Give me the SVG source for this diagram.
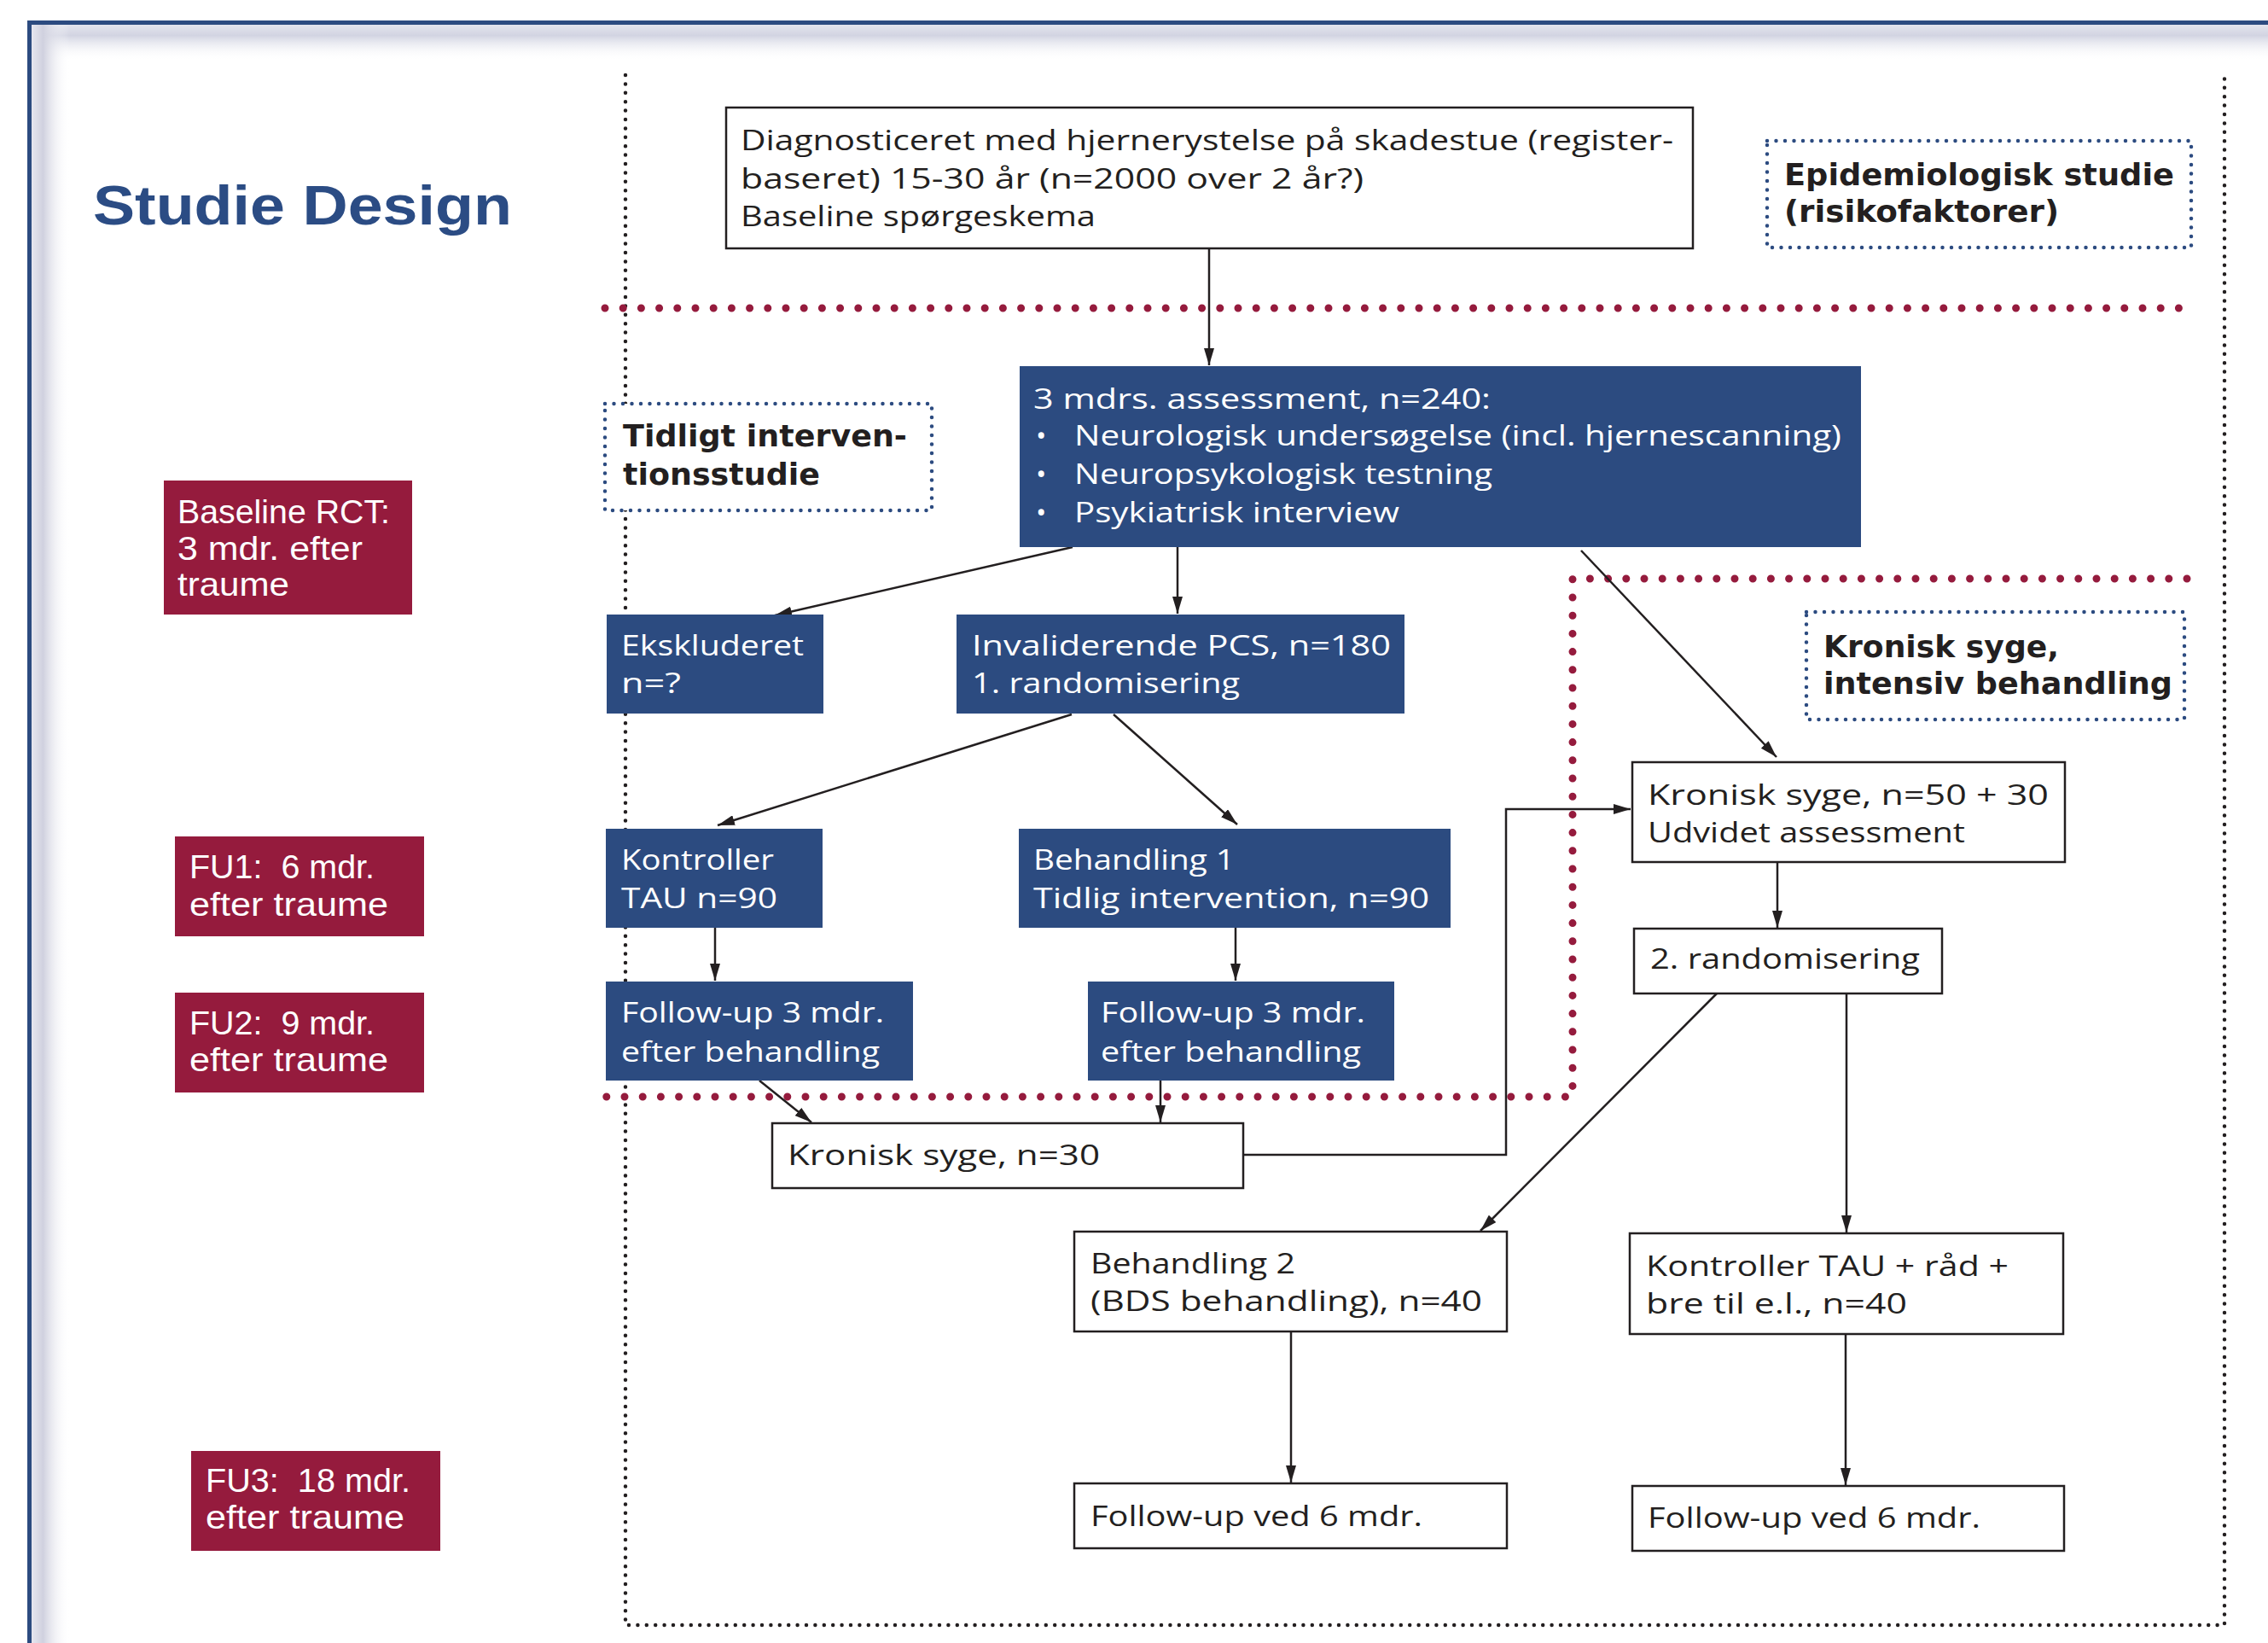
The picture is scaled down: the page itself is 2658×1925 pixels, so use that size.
<svg xmlns="http://www.w3.org/2000/svg" width="2658" height="1925" viewBox="0 0 2658 1925">
<defs>
<linearGradient id="gTop" x1="0" y1="0" x2="0" y2="1">
<stop offset="0" stop-color="#e3e4ed"/>
<stop offset="0.3" stop-color="#d2d4e2"/>
<stop offset="1" stop-color="#ffffff" stop-opacity="0"/>
</linearGradient>
<linearGradient id="gLeft" x1="0" y1="0" x2="1" y2="0">
<stop offset="0" stop-color="#e6e6ef"/>
<stop offset="0.3" stop-color="#d0d1df"/>
<stop offset="1" stop-color="#ffffff" stop-opacity="0"/>
</linearGradient>
<marker id="ah" viewBox="0 0 20 12" refX="20" refY="6" markerWidth="20" markerHeight="12" markerUnits="userSpaceOnUse" orient="auto">
<path d="M0,0 L20,6 L0,12 z" fill="#231f20"/>
</marker>
<style>
.bx{fill:#fff;stroke:#231f20;stroke-width:2.5}
.bb{fill:#2c4b80}
.rb{fill:#951b3d}
.t{font-family:"Open Sans","DejaVu Sans",sans-serif;font-size:33px;fill:#231f20}
.tw{fill:#fff}
.tb{font-family:"DejaVu Sans",sans-serif;font-weight:bold;font-size:35px;fill:#231f20}
.tr{font-family:"Liberation Sans",Arial,sans-serif;font-size:39px;fill:#fff;white-space:pre}
.c{stroke:#231f20;stroke-width:2.5;fill:none;marker-end:url(#ah)}
.bd{fill:#fff;stroke:#2c4b80;stroke-width:4.5;stroke-dasharray:0 10.5;stroke-linecap:round}
.kd{fill:none;stroke:#231f20;stroke-width:4.5;stroke-dasharray:0 10.4;stroke-linecap:round}
.rd{fill:none;stroke:#951b3d;stroke-width:9;stroke-dasharray:0 21.2;stroke-linecap:round}
</style>
</defs>
<rect x="0" y="0" width="2658" height="1925" fill="#fff"/>
<g id="frame">
<rect x="37" y="29" width="2621" height="42" fill="url(#gTop)"/>
<rect x="37" y="29" width="45" height="1896" fill="url(#gLeft)"/>
<rect x="32" y="24" width="2626" height="5" fill="#2c4b80"/>
<rect x="32" y="24" width="5" height="1901" fill="#2c4b80"/>
</g>
<g id="title">
<text x="109" y="263" font-family="Liberation Sans, Arial, sans-serif" font-weight="bold" font-size="64" fill="#2b4c84" textLength="491" lengthAdjust="spacingAndGlyphs">Studie Design</text>
</g>
<g id="regions">
<path class="kd" d="M733,88 V1904 H2607 V88"/>
<path class="rd" d="M709,361 H2563"/>
<path class="rd" d="M2563,678 H1843 V1285 H709"/>
</g>
<g id="connectors">
<path class="c" d="M1417,291 V428"/>
<path class="c" d="M1257,641 L908,721"/>
<path class="c" d="M1380,641 V719"/>
<path class="c" d="M1853,645 L2082,887" stroke-width="2"/>
<path class="c" d="M1256,837 L841,967"/>
<path class="c" d="M1305,837 L1450,966"/>
<path class="c" d="M838,1087 V1149"/>
<path class="c" d="M1448,1087 V1149"/>
<path class="c" d="M890,1266 L951,1315"/>
<path class="c" d="M1360,1266 V1315"/>
<path class="c" d="M1457,1353 H1765 V948 H1911" stroke-width="3"/>
<path class="c" d="M2083,1010 V1087"/>
<path class="c" d="M2012,1164 L1735,1442" stroke-width="2"/>
<path class="c" d="M2164,1164 V1444" stroke-width="3"/>
<path class="c" d="M1513,1560 V1737" stroke-width="3"/>
<path class="c" d="M2163,1563 V1740" stroke-width="3"/>
</g>
<g id="n-diag">
<rect class="bx" x="851" y="126" width="1133" height="165"/>
<text class="t" x="868" y="176" textLength="1093" lengthAdjust="spacingAndGlyphs">Diagnosticeret med hjernerystelse på skadestue (register-</text>
<text class="t" x="868" y="221" textLength="730" lengthAdjust="spacingAndGlyphs">baseret) 15-30 år (n=2000 over 2 år?)</text>
<text class="t" x="868" y="265" textLength="416" lengthAdjust="spacingAndGlyphs">Baseline spørgeskema</text>
</g>
<g id="n-epi">
<rect class="bd" x="2071" y="165" width="497" height="125"/>
<text class="tb" x="2091" y="217" textLength="457" lengthAdjust="spacingAndGlyphs">Epidemiologisk studie</text>
<text class="tb" x="2091" y="260" textLength="322" lengthAdjust="spacingAndGlyphs">(risikofaktorer)</text>
</g>
<g id="n-assess">
<rect class="bb" x="1195" y="429" width="986" height="212"/>
<text class="t tw" x="1211" y="479" textLength="536" lengthAdjust="spacingAndGlyphs">3 mdrs. assessment, n=240:</text>
<text class="t tw" x="1214" y="522">•</text>
<text class="t tw" x="1259" y="522" textLength="899" lengthAdjust="spacingAndGlyphs">Neurologisk undersøgelse (incl. hjernescanning)</text>
<text class="t tw" x="1214" y="567">•</text>
<text class="t tw" x="1259" y="567" textLength="490" lengthAdjust="spacingAndGlyphs">Neuropsykologisk testning</text>
<text class="t tw" x="1214" y="612">•</text>
<text class="t tw" x="1259" y="612" textLength="381" lengthAdjust="spacingAndGlyphs">Psykiatrisk interview</text>
</g>
<g id="n-tidligt">
<rect class="bd" x="709" y="473" width="383" height="125"/>
<text class="tb" x="730" y="523" textLength="333" lengthAdjust="spacingAndGlyphs">Tidligt interven-</text>
<text class="tb" x="730" y="568" textLength="231" lengthAdjust="spacingAndGlyphs">tionsstudie</text>
</g>
<g id="n-baseline-rct">
<rect class="rb" x="192" y="563" width="291" height="157"/>
<text class="tr" x="208" y="613" textLength="249" lengthAdjust="spacingAndGlyphs">Baseline RCT:</text>
<text class="tr" x="208" y="656" textLength="217" lengthAdjust="spacingAndGlyphs">3 mdr. efter</text>
<text class="tr" x="208" y="698" textLength="131" lengthAdjust="spacingAndGlyphs">traume</text>
</g>
<g id="n-eksk">
<rect class="bb" x="711" y="720" width="254" height="116"/>
<text class="t tw" x="728" y="768" textLength="214" lengthAdjust="spacingAndGlyphs">Ekskluderet</text>
<text class="t tw" x="728" y="812" textLength="70" lengthAdjust="spacingAndGlyphs">n=?</text>
</g>
<g id="n-inval">
<rect class="bb" x="1121" y="720" width="525" height="116"/>
<text class="t tw" x="1139" y="768" textLength="491" lengthAdjust="spacingAndGlyphs">Invaliderende PCS, n=180</text>
<text class="t tw" x="1139" y="812" textLength="314" lengthAdjust="spacingAndGlyphs">1. randomisering</text>
</g>
<g id="n-kron-int">
<rect class="bd" x="2117" y="717" width="443" height="126"/>
<text class="tb" x="2137" y="770" textLength="276" lengthAdjust="spacingAndGlyphs">Kronisk syge,</text>
<text class="tb" x="2137" y="813" textLength="409" lengthAdjust="spacingAndGlyphs">intensiv behandling</text>
</g>
<g id="n-kron50">
<rect class="bx" x="1913" y="893" width="507" height="117"/>
<text class="t" x="1931" y="943" textLength="470" lengthAdjust="spacingAndGlyphs">Kronisk syge, n=50 + 30</text>
<text class="t" x="1931" y="987" textLength="372" lengthAdjust="spacingAndGlyphs">Udvidet assessment</text>
</g>
<g id="n-fu1">
<rect class="rb" x="205" y="980" width="292" height="117"/>
<text class="tr" x="222" y="1029" textLength="217" lengthAdjust="spacingAndGlyphs" xml:space="preserve">FU1:  6 mdr.</text>
<text class="tr" x="222" y="1073" textLength="233" lengthAdjust="spacingAndGlyphs">efter traume</text>
</g>
<g id="n-kontr90">
<rect class="bb" x="710" y="971" width="254" height="116"/>
<text class="t tw" x="728" y="1019" textLength="179" lengthAdjust="spacingAndGlyphs">Kontroller</text>
<text class="t tw" x="728" y="1064" textLength="183" lengthAdjust="spacingAndGlyphs">TAU n=90</text>
</g>
<g id="n-beh1">
<rect class="bb" x="1194" y="971" width="506" height="116"/>
<text class="t tw" x="1211" y="1019" textLength="236" lengthAdjust="spacingAndGlyphs">Behandling 1</text>
<text class="t tw" x="1211" y="1064" textLength="464" lengthAdjust="spacingAndGlyphs">Tidlig intervention, n=90</text>
</g>
<g id="n-2rand">
<rect class="bx" x="1915" y="1088" width="361" height="76"/>
<text class="t" x="1934" y="1135" textLength="316" lengthAdjust="spacingAndGlyphs">2. randomisering</text>
</g>
<g id="n-fu2">
<rect class="rb" x="205" y="1163" width="292" height="117"/>
<text class="tr" x="222" y="1212" textLength="217" lengthAdjust="spacingAndGlyphs" xml:space="preserve">FU2:  9 mdr.</text>
<text class="tr" x="222" y="1255" textLength="233" lengthAdjust="spacingAndGlyphs">efter traume</text>
</g>
<g id="n-fu-left">
<rect class="bb" x="710" y="1150" width="360" height="116"/>
<text class="t tw" x="728" y="1198" textLength="308" lengthAdjust="spacingAndGlyphs">Follow-up 3 mdr.</text>
<text class="t tw" x="728" y="1244" textLength="303" lengthAdjust="spacingAndGlyphs">efter behandling</text>
</g>
<g id="n-fu-right">
<rect class="bb" x="1275" y="1150" width="359" height="116"/>
<text class="t tw" x="1290" y="1198" textLength="310" lengthAdjust="spacingAndGlyphs">Follow-up 3 mdr.</text>
<text class="t tw" x="1290" y="1244" textLength="305" lengthAdjust="spacingAndGlyphs">efter behandling</text>
</g>
<g id="n-kron30">
<rect class="bx" x="905" y="1316" width="552" height="76"/>
<text class="t" x="923" y="1365" textLength="366" lengthAdjust="spacingAndGlyphs">Kronisk syge, n=30</text>
</g>
<g id="n-beh2">
<rect class="bx" x="1259" y="1443" width="507" height="117"/>
<text class="t" x="1278" y="1492" textLength="240" lengthAdjust="spacingAndGlyphs">Behandling 2</text>
<text class="t" x="1278" y="1536" textLength="459" lengthAdjust="spacingAndGlyphs">(BDS behandling), n=40</text>
</g>
<g id="n-kontrtau">
<rect class="bx" x="1910" y="1445" width="508" height="118"/>
<text class="t" x="1929" y="1495" textLength="425" lengthAdjust="spacingAndGlyphs">Kontroller TAU + råd +</text>
<text class="t" x="1929" y="1539" textLength="306" lengthAdjust="spacingAndGlyphs">bre til e.l., n=40</text>
</g>
<g id="n-fu3">
<rect class="rb" x="224" y="1700" width="292" height="117"/>
<text class="tr" x="241" y="1748" textLength="240" lengthAdjust="spacingAndGlyphs" xml:space="preserve">FU3:  18 mdr.</text>
<text class="tr" x="241" y="1791" textLength="233" lengthAdjust="spacingAndGlyphs">efter traume</text>
</g>
<g id="n-fu6-left">
<rect class="bx" x="1259" y="1738" width="507" height="76"/>
<text class="t" x="1278" y="1788" textLength="389" lengthAdjust="spacingAndGlyphs">Follow-up ved 6 mdr.</text>
</g>
<g id="n-fu6-right">
<rect class="bx" x="1913" y="1741" width="506" height="76"/>
<text class="t" x="1931" y="1790" textLength="390" lengthAdjust="spacingAndGlyphs">Follow-up ved 6 mdr.</text>
</g>
</svg>
